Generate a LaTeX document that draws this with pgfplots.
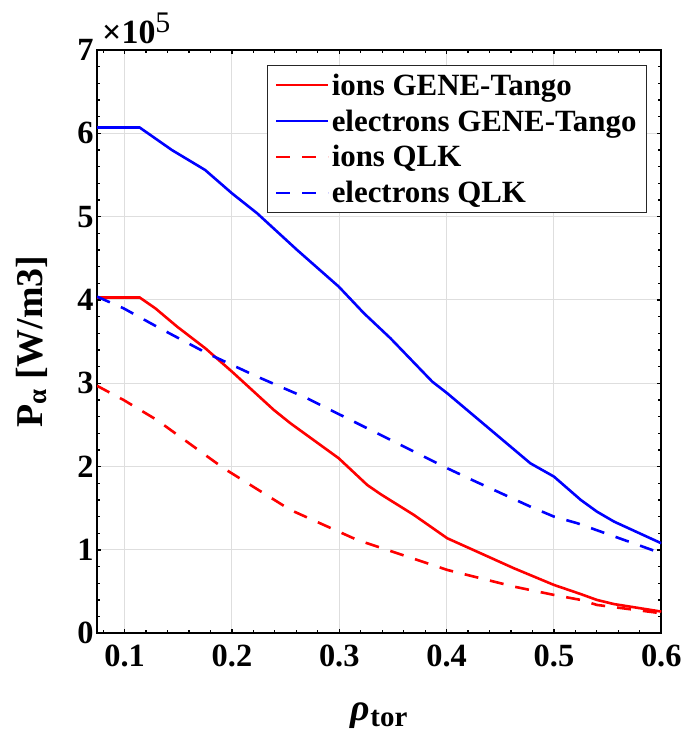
\documentclass[border=0pt]{standalone}
\usepackage{fontspec}
\setmainfont{Liberation Serif}
\usepackage{pgfplots}
\pgfplotsset{compat=1.18}
\definecolor{mred}{rgb}{1,0,0}
\definecolor{mblue}{rgb}{0,0,1}
\begin{document}
\begin{tikzpicture}
\begin{axis}[
  scale only axis, width=564bp, height=583bp,
  xmin=0.0743, xmax=0.6, ymin=0, ymax=700000,
  xtick={0.1,0.2,0.3,0.4,0.5,0.6},
  minor xtick={0.08,0.12,0.14,0.16,0.18,0.22,0.24,0.26,0.28,0.32,0.34,0.36,0.38,0.42,0.44,0.46,0.48,0.52,0.54,0.56,0.58},
  ytick={0,100000,200000,300000,400000,500000,600000,700000},
  minor ytick={20000,40000,60000,80000,120000,140000,160000,180000,220000,240000,260000,280000,320000,340000,360000,380000,420000,440000,460000,480000,520000,540000,560000,580000,620000,640000,660000,680000},
  scaled y ticks=base 10:-5,
  ytick scale label code/.code={},
  xticklabel style={/pgf/number format/fixed, /pgf/number format/precision=1, /pgf/number format/fixed zerofill},
  /pgf/number format/assume math mode=true,
  tick label style={font=\fontsize{32.5}{36}\selectfont\bfseries},
  xticklabel style={yshift=-8bp},
  tick align=inside,
  tick pos=both,
  tick style={black, line width=1.2bp},
  axis line style={line width=1.6bp, black},
  grid=major,
  major grid style={draw=black!13, line width=1bp},
  xlabel={{\fontsize{38}{40}\selectfont\itshape ρ}\raisebox{-0.6em}{\fontsize{29}{30}\selectfont tor}},
  ylabel={{\fontsize{38}{40}\selectfont P}\raisebox{-0.45em}{\fontsize{27}{28}\selectfont α}{\fontsize{38}{40}\selectfont\ [W/m3]}},
  label style={font=\bfseries},
  xlabel style={at={(axis description cs:0.5,-0.150)}, anchor=base},
  ylabel style={at={(axis description cs:-0.0975,0.5)}, anchor=base},
  legend style={at={(axis description cs:0.9746,0.974)}, anchor=north east,
    font=\fontsize{31}{34}\selectfont\bfseries, draw=black!85, line width=1bp,
    inner xsep=8bp, inner ysep=6bp, row sep=9bp},
  legend cell align=left,
  legend image code/.code={\draw[#1] (0bp,0bp) -- (52bp,0bp);},
]
\addplot[mred, line width=2.6bp] table {
0.0743 403000
0.114 403000
0.1286 390000
0.1489 368000
0.1752 342000
0.2 314000
0.239 268000
0.2545 252000
0.2995 210000
0.326 178000
0.3384 167000
0.3695 142000
0.4006 114000
0.4317 96000
0.4627 78000
0.5 58000
0.525 47000
0.540 40000
0.556 35000
0.6 26000
};
\addlegendentry{ions GENE-Tango}
\addplot[mblue, line width=2.6bp] table {
0.0743 607000
0.114 607000
0.144 580000
0.175 556000
0.2 528000
0.2235 504000
0.2607 460000
0.2995 416000
0.323 384000
0.3477 354000
0.3866 302000
0.4006 288000
0.478 204000
0.5 188000
0.525 160000
0.540 146000
0.556 134000
0.6 108000
};
\addlegendentry{electrons GENE-Tango}
\addplot[mred, line width=2.6bp, dash pattern=on 14bp off 12bp] table {
0.0743 297000
0.099 280000
0.130 256000
0.1923 198000
0.2545 148000
0.3167 112000
0.3447 100000
0.4006 76000
0.4317 66000
0.4627 56000
0.5 46000
0.525 40000
0.540 34000
0.6 24000
};
\addlegendentry{ions QLK}
\addplot[mblue, line width=2.6bp, dash pattern=on 14bp off 12bp] table {
0.0743 404000
0.099 390000
0.130 368000
0.1768 336000
0.2235 308000
0.270 282000
0.3167 252000
0.3447 234000
0.4006 198000
0.4254 183000
0.478 152000
0.5 140000
0.5219 132000
0.6 96000
};
\addlegendentry{electrons QLK}
\end{axis}
\node[anchor=base west, inner sep=0pt, font=\fontsize{34}{36}\selectfont\bfseries] at ([shift={(5bp,7bp)}]current axis.north west) {×10\raisebox{0.3em}{\fontsize{30}{32}\selectfont\mdseries 5}};
\path ([shift={(-97bp,-107.7bp)}]current axis.south west) rectangle ([shift={(24bp,50bp)}]current axis.north east);
\end{tikzpicture}
\end{document}
